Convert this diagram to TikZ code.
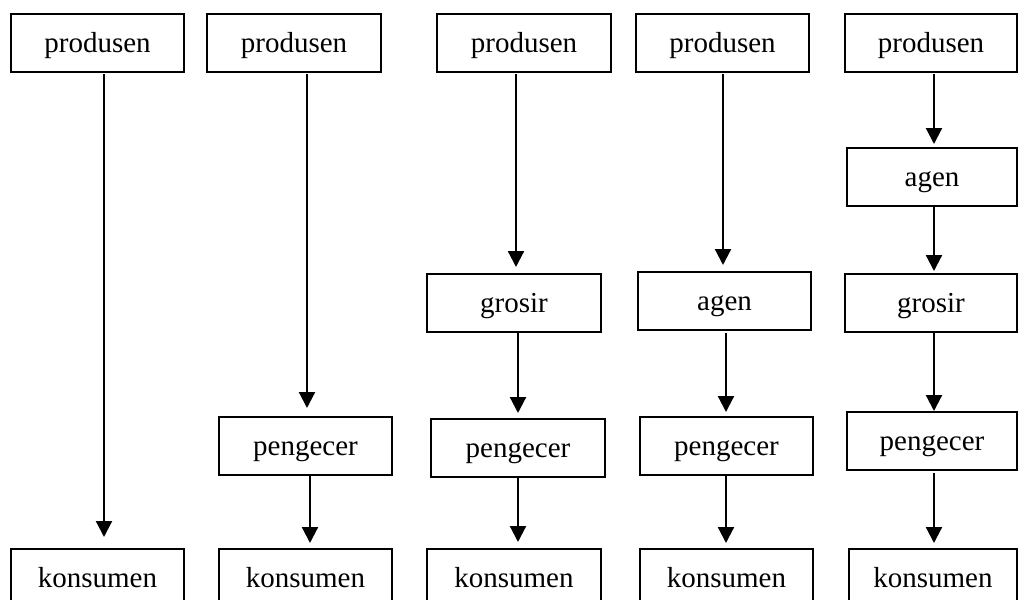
\documentclass[tikz,border=0pt]{standalone}
\usepackage{fontspec}
\setmainfont{Liberation Serif}
\usetikzlibrary{arrows.meta}

\tikzset{
  box/.style={draw, line width=1.4pt, inner sep=0pt, outer sep=0pt,
    minimum height=58pt, fill=white,
    font=\fontsize{29}{34}\selectfont, text height=23pt, text depth=5pt},
  arr/.style={line width=2.2pt, -{Triangle[length=16pt,width=16pt]}}
}

\begin{document}
\begin{tikzpicture}[x=1pt,y=-1pt]
\useasboundingbox (0,0) rectangle (1018,600);

% ---- column 1: produsen -> konsumen
\node[box, minimum width=173pt] (p1) at (97.5,43)  {produsen};
\node[box, minimum width=173pt] (k1) at (97.5,578) {konsumen};

% ---- column 2: produsen -> pengecer -> konsumen
\node[box, minimum width=174pt] (p2) at (294,43)    {produsen};
\node[box, minimum width=173pt] (e2) at (305.5,446) {pengecer};
\node[box, minimum width=173pt] (k2) at (305.5,578) {konsumen};

% ---- column 3: produsen -> grosir -> pengecer -> konsumen
\node[box, minimum width=174pt] (p3) at (524,43)  {produsen};
\node[box, minimum width=174pt] (g3) at (514,303) {grosir};
\node[box, minimum width=174pt] (e3) at (518,448) {pengecer};
\node[box, minimum width=174pt] (k3) at (514,578) {konsumen};

% ---- column 4: produsen -> agen -> pengecer -> konsumen
\node[box, minimum width=173pt] (p4) at (722.5,43)  {produsen};
\node[box, minimum width=173pt] (a4) at (724.5,301) {agen};
\node[box, minimum width=173pt] (e4) at (726.5,446) {pengecer};
\node[box, minimum width=173pt] (k4) at (726.5,578) {konsumen};

% ---- column 5: produsen -> agen -> grosir -> pengecer -> konsumen
\node[box, minimum width=172pt] (p5) at (931,43)  {produsen};
\node[box, minimum width=170pt] (a5) at (932,177) {agen};
\node[box, minimum width=172pt] (g5) at (931,303) {grosir};
\node[box, minimum width=170pt] (e5) at (932,441) {pengecer};
\node[box, minimum width=168pt] (k5) at (933,578) {konsumen};

% vertical lanes the arrows run along
\coordinate (l1)  at (104,0);
\coordinate (l2a) at (307,0);
\coordinate (l2b) at (310,0);
\coordinate (l3a) at (516,0);
\coordinate (l3b) at (518,0);
\coordinate (l4a) at (723,0);
\coordinate (l4b) at (726,0);
\coordinate (l5)  at (934,0);

% ---- arrows
\draw[arr, shorten <=2pt, shorten >=12pt] (p1.south -| l1) -- (k1.north -| l1);

\draw[arr, shorten <=2pt, shorten >=9pt] (p2.south -| l2a) -- (e2.north -| l2a);
\draw[arr, shorten >=6pt] (e2.south -| l2b) -- (k2.north -| l2b);

\draw[arr, shorten <=2pt, shorten >=7pt] (p3.south -| l3a) -- (g3.north -| l3a);
\draw[arr, shorten >=6pt] (g3.south -| l3b) -- (e3.north -| l3b);
\draw[arr, shorten >=7pt] (e3.south -| l3b) -- (k3.north -| l3b);

\draw[arr, shorten <=2pt, shorten >=7pt] (p4.south -| l4a) -- (a4.north -| l4a);
\draw[arr, shorten <=3pt, shorten >=5pt] (a4.south -| l4b) -- (e4.north -| l4b);
\draw[arr, shorten >=6pt] (e4.south -| l4b) -- (k4.north -| l4b);

\draw[arr, shorten <=2pt, shorten >=4pt] (p5.south -| l5) -- (a5.north -| l5);
\draw[arr, shorten >=3pt] (a5.south -| l5) -- (g5.north -| l5);
\draw[arr, shorten >=1pt] (g5.south -| l5) -- (e5.north -| l5);
\draw[arr, shorten <=3pt, shorten >=6pt] (e5.south -| l5) -- (k5.north -| l5);
\end{tikzpicture}
\end{document}
